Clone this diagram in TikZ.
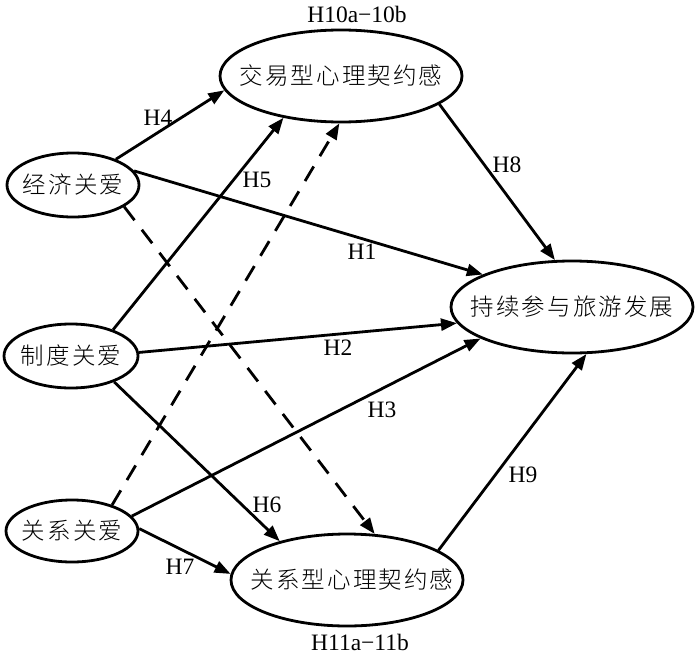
\documentclass[tikz,border=0pt]{standalone}
\usepackage{fontspec}
\setmainfont{Liberation Serif}
\newfontfamily\cjk{Noto Sans CJK SC}[UprightFont=* Light, LetterSpace=9]
\usetikzlibrary{shapes.geometric,arrows.meta}
\begin{document}
\begin{tikzpicture}[x=1pt,y=-1pt,
  var/.style={ellipse, draw, line width=2.8pt, inner sep=0pt, font=\cjk\fontsize{23.5}{23.5}\selectfont},
  lab/.style={font=\fontsize{23.5}{23.5}\selectfont, inner sep=0pt},
  arr/.style={line width=2.8pt, -{Triangle[length=16pt,width=12pt]}},
  dsh/.style={arr, dash pattern=on 17pt off 12pt}]
\useasboundingbox (0,0) rectangle (700,658);
\fill[white] (0,0) rectangle (700,658);
\node[var, minimum width=242pt, minimum height=92pt] (A) at (341,76) {\makebox[0pt]{交易型心理契约感}};
\node[var, minimum width=132pt, minimum height=64pt] (B) at (73,185) {\makebox[0pt]{经济关爱}};
\node[var, minimum width=134pt, minimum height=64pt] (C) at (71,356) {\makebox[0pt]{制度关爱}};
\node[var, minimum width=132pt, minimum height=62pt] (D) at (72,531) {\makebox[0pt]{关系关爱}};
\node[var, minimum width=242pt, minimum height=92pt] (E) at (572,307) {\makebox[0pt]{持续参与旅游发展}};
\node[var, minimum width=232pt, minimum height=92pt] (F) at (347,580) {\makebox[0pt]{\hspace{10pt}关系型心理契约感}};
\node[lab] (l10) at (357,14) {H10a−10b};
\node[lab] (l11) at (360,642) {H11a−11b};
\draw[arr] (B.31) -- (A.187);
\draw[arr] (C.32) -- (A.216);
\draw[dsh] (D.33) -- (A.268);
\draw[arr] (B.13) -- (E.160);
\draw[dsh] (B.337) -- (F.59);
\draw[arr] (C.3) -- (E.188);
\draw[arr] (D.14) -- (E.199);
\draw[arr] (C.329) -- (F.150);
\draw[arr] (D.2) -- (F.177);
\draw[arr] (A.344) -- (E.110);
\draw[arr] (F.18) -- (E.287);
\node[lab] (h4) at (158,118) {H4};
\node[lab] (h5) at (257,180) {H5};
\node[lab] (h1) at (362,252) {H1};
\node[lab] (h2) at (338,348) {H2};
\node[lab] (h3) at (382,410) {H3};
\node[lab] (h6) at (267,505) {H6};
\node[lab] (h7) at (180,567) {H7};
\node[lab] (h8) at (507,165) {H8};
\node[lab] (h9) at (523,475) {H9};
\end{tikzpicture}
\end{document}
